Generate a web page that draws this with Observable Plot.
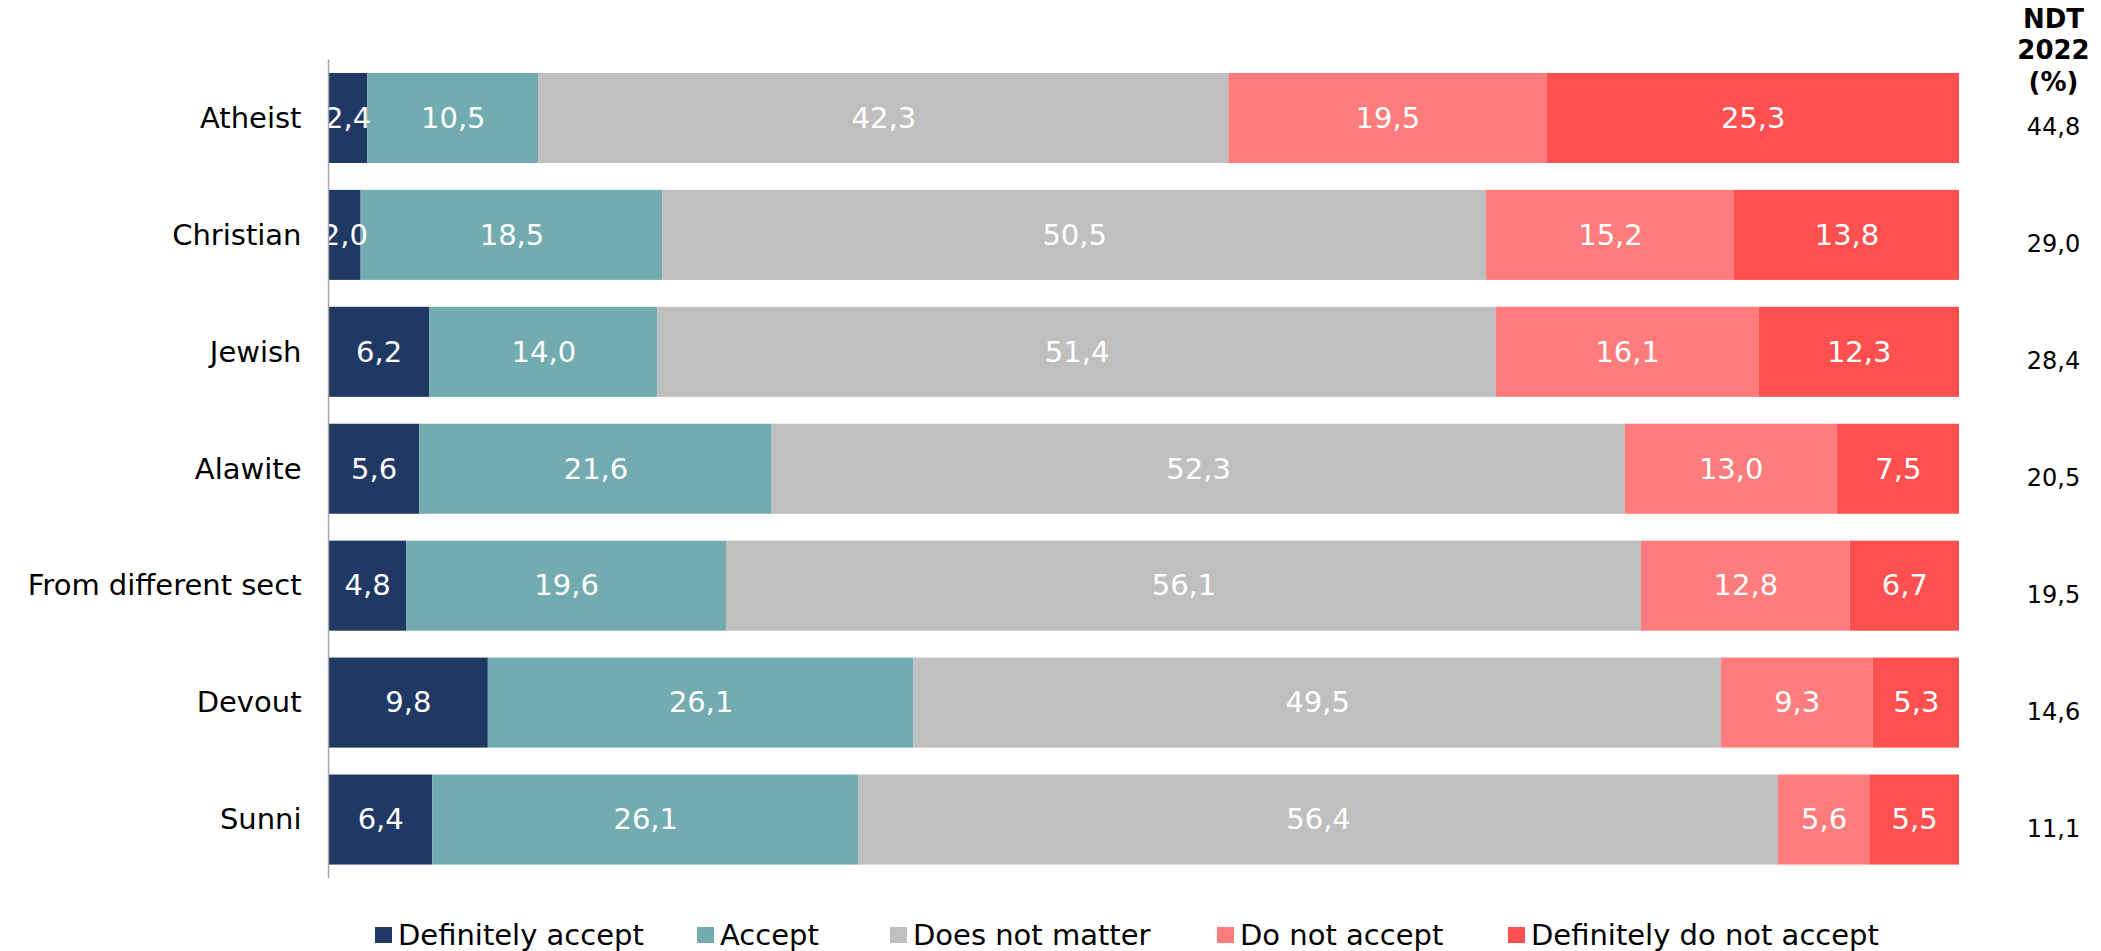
<!DOCTYPE html>
<html>
<head>
<meta charset="utf-8">
<script src="https://cdn.jsdelivr.net/npm/d3@7"></script>
<script src="https://cdn.jsdelivr.net/npm/@observablehq/plot@0.6"></script>
<style>
  html, body { margin: 0; padding: 0; background: white; }
  #chart svg { display: block; }
  .legend { position: relative; height: 70px;
            font-family: "DejaVu Sans", sans-serif; font-size: 29px; color: black; }
  .legend .item { position: absolute; top: 0; height: 70px; display: flex; align-items: center; white-space: nowrap; }
  .legend .sw { width: 17px; height: 16px; margin-right: 6px; display: inline-block; }
</style>
</head>
<body>
<div id="chart"></div>
<div class="legend" id="legend"></div>
<script>
const categories = ["Atheist", "Christian", "Jewish", "Alawite", "From different sect", "Devout", "Sunni"];
const seriesNames = ["Definitely accept", "Accept", "Does not matter", "Do not accept", "Definitely do not accept"];
const definitelyAccept = [2.4, 2.0, 6.2, 5.6, 4.8, 9.8, 6.4];
const accept = [10.5, 18.5, 14.0, 21.6, 19.6, 26.1, 26.1];
const doesNotMatter = [42.3, 50.5, 51.4, 52.3, 56.1, 49.5, 56.4];
const doNotAccept = [19.5, 15.2, 16.1, 13.0, 12.8, 9.3, 5.6];
const definitelyDoNotAccept = [25.3, 13.8, 12.3, 7.5, 6.7, 5.3, 5.5];
const ndt2022 = [44.8, 29.0, 28.4, 20.5, 19.5, 14.6, 11.1];
const ndtHeader = "NDT\n2022\n(%)";
const colors = ["#203864", "#72acb0", "#bfbfbf", "#ff7c7c", "#ff5050"];
const legendLefts = [375, 697, 890, 1217, 1508];

const seriesValues = [definitelyAccept, accept, doesNotMatter, doNotAccept, definitelyDoNotAccept];
const rows = [];
seriesNames.forEach((s, si) => {
  categories.forEach((c, ci) => rows.push({cat: c, series: s, value: seriesValues[si][ci]}));
});
const ndtRows = categories.map((c, i) => ({cat: c, value: ndt2022[i]}));
const fmt = v => d3.format(".1f")(v).replace(".", ",");

const chart = Plot.plot({
  width: 2101,
  height: 900,
  marginLeft: 328,
  marginRight: 142,
  marginTop: 59.5,
  marginBottom: 22,
  style: {fontFamily: "DejaVu Sans, sans-serif", background: "white", color: "black"},
  x: {domain: [0, 100], axis: null},
  y: {domain: categories, paddingInner: 0.23, paddingOuter: 0.115, round: false, axis: null},
  color: {domain: seriesNames, range: colors},
  marks: [
    Plot.barX(rows, Plot.stackX({x: "value", y: "cat", fill: "series", order: seriesNames})),
    Plot.text(rows, Plot.stackX({x: "value", y: "cat", z: "series", order: seriesNames,
      text: d => fmt(d.value), fill: "white", fontSize: 29})),
    Plot.ruleX([0], {stroke: "#a6a6a6", strokeWidth: 1.5}),
    Plot.axisY({tickSize: 0, tickPadding: 27, fontSize: 29, label: null}),
    Plot.text(ndtRows, {y: "cat", text: d => fmt(d.value), frameAnchor: "right", textAnchor: "middle",
      dx: 94, dy: 9, fontSize: 24, fill: "black"}),
    Plot.text([ndtHeader], {frameAnchor: "top-right", textAnchor: "middle", dx: 94, dy: -54, lineAnchor: "top",
      fontWeight: "bold", fontSize: 26, lineHeight: 1.2, fill: "black"})
  ]
});
document.getElementById("chart").appendChild(chart);

const legend = document.getElementById("legend");
seriesNames.forEach((s, i) => {
  const item = document.createElement("div");
  item.className = "item";
  item.style.left = legendLefts[i] + "px";
  const sw = document.createElement("span");
  sw.className = "sw";
  sw.style.background = colors[i];
  const t = document.createElement("span");
  t.textContent = s;
  item.appendChild(sw);
  item.appendChild(t);
  legend.appendChild(item);
});
</script>
</body>
</html>
